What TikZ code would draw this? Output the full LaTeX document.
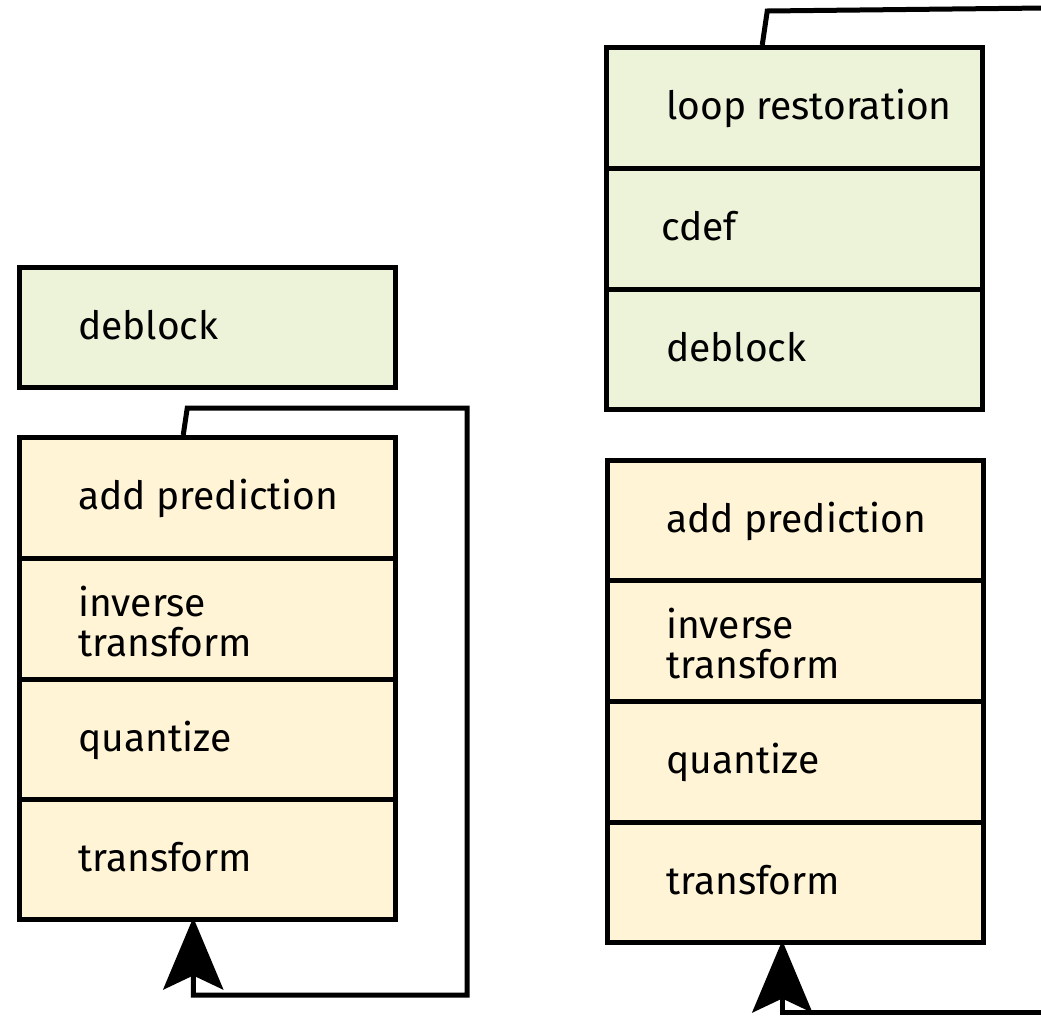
\documentclass[tikz,border=0pt]{standalone}
\usepackage{fontspec}
\setmainfont{Fira Sans}
\usetikzlibrary{arrows.meta}
\definecolor{cgreen}{RGB}{237,243,216}
\definecolor{cyellow}{RGB}{255,244,214}
\tikzset{
  cell/.style={draw=black, line width=4.5pt, minimum width=376pt, inner sep=0pt, anchor=north west},
  gcell/.style={cell, fill=cgreen},
  ycell/.style={cell, fill=cyellow},
  lblbase/.style={anchor=west, inner sep=0pt, align=left, font=\fontsize{39}{40}\selectfont},
  lbl/.style={lblbase, text height=0.72em, text depth=0.22em, yshift=-9.5pt},
  lbltwo/.style={lblbase, yshift=-3pt},
  conn/.style={draw=black, line width=5pt, line join=miter},
  bigtip/.style={-{Stealth[length=72pt, width=60pt, inset=14pt]}}
}
\begin{document}
\begin{tikzpicture}[x=1pt,y=-1pt]
\useasboundingbox (0,0) rectangle (1041,1017);
% left column
\node[gcell, minimum height=120pt] (ldb) at (17,265) {};
\node[lbl] (ldbt) at ([xshift=61pt]ldb.west) {deblock};
\node[ycell, minimum height=121pt] (l1) at (17,435) {};
\node[ycell, minimum height=121pt] (l2) at (17,556) {};
\node[ycell, minimum height=120pt] (l3) at (17,677) {};
\node[ycell, minimum height=120pt] (l4) at (17,797) {};
\node[lbl] (l1t) at ([xshift=61pt]l1.west) {add prediction};
\node[lbltwo] (l2t) at ([xshift=61pt]l2.west) {inverse\\transform};
\node[lbl] (l3t) at ([xshift=61pt]l3.west) {quantize};
\node[lbl] (l4t) at ([xshift=61pt]l4.west) {transform};
% right column
\node[gcell, minimum height=121pt] (r1) at (604,45) {};
\node[gcell, minimum height=121pt] (r2) at (604,166) {};
\node[gcell, minimum height=120pt] (r3) at (604,287) {};
\node[lbl] (r1t) at ([xshift=62pt]r1.west) {loop restoration};
\node[lbl] (r2t) at ([xshift=57pt]r2.west) {cdef};
\node[lbl] (r3t) at ([xshift=62pt]r3.west) {deblock};
\node[ycell, minimum height=120pt] (y1) at (605,458) {};
\node[ycell, minimum height=121pt] (y2) at (605,578) {};
\node[ycell, minimum height=121pt] (y3) at (605,699) {};
\node[ycell, minimum height=120pt] (y4) at (605,820) {};
\node[lbl] (y1t) at ([xshift=61pt]y1.west) {add prediction};
\node[lbltwo] (y2t) at ([xshift=61pt]y2.west) {inverse\\transform};
\node[lbl] (y3t) at ([xshift=61pt]y3.west) {quantize};
\node[lbl] (y4t) at ([xshift=61pt]y4.west) {transform};
% connectors
\draw[conn, bigtip] ([xshift=-24pt]l1.north) -- ++(4,-27) -| (467,995) -| ([xshift=-14pt,yshift=4pt]l4.south);
\coordinate (rtop) at (1045,8);
\coordinate (rbot) at (1045,1012);
\draw[conn] ([xshift=-32pt]r1.north) -- ++(5,-34) -- (rtop);
\draw[conn, bigtip] (rbot) -| ([xshift=-13pt,yshift=4pt]y4.south);
\end{tikzpicture}
\end{document}
